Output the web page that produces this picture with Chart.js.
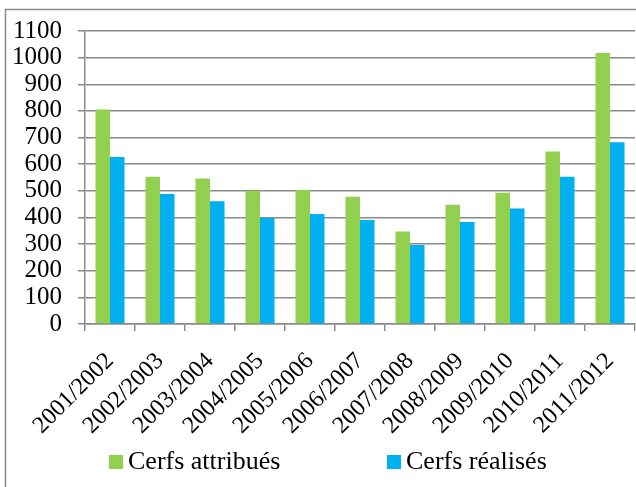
<!DOCTYPE html>
<html>
<head>
<meta charset="utf-8">
<script src="https://cdn.jsdelivr.net/npm/chart.js@4"></script>
<style>
  html, body { margin: 0; padding: 0; background: #fff; }
  #wrap { position: relative; width: 636px; height: 487px; overflow: hidden; }
  #legend { position: absolute; top: 446px; left: 0; width: 636px; font-family: "Liberation Serif", "Times New Roman", serif; font-size: 26px; line-height: 30px; color: #000; }
  .item { position: absolute; top: 0; white-space: nowrap; }
  .box { display: inline-block; width: 14px; height: 14px; margin-right: 5px; vertical-align: 0px; }
</style>
</head>
<body>
<div id="wrap">
  <canvas id="chart" width="636" height="487"></canvas>
  <div id="legend"></div>
</div>
<script>
// categories and values
const seasons = ['2001/2002', '2002/2003', '2003/2004', '2004/2005', '2005/2006', '2006/2007',
                 '2007/2008', '2008/2009', '2009/2010', '2010/2011', '2011/2012'];
const attribues = [805, 553, 546, 500, 503, 478, 347, 448, 493, 648, 1017];
const realises = [627, 488, 461, 398, 413, 391, 297, 383, 434, 553, 682];
const seriesNames = ['Cerfs attribués', 'Cerfs réalisés'];
const colors = ['#92D050', '#00B0F0'];

const gridColor = '#8a8a8a';
const font = '"Liberation Serif", "Times New Roman", serif';

// outer frame of the original figure
const framePlugin = {
  id: 'frame',
  beforeDraw(chart) {
    const c = chart.ctx;
    c.save();
    c.strokeStyle = gridColor;
    c.lineWidth = 1.5;
    c.beginPath();
    c.moveTo(5.5, 487);
    c.lineTo(5.5, 9.5);
    c.lineTo(636, 9.5);
    c.stroke();
    c.restore();
  }
};

const ctx = document.getElementById('chart').getContext('2d');
new Chart(ctx, {
  type: 'bar',
  data: {
    labels: seasons,
    datasets: [
      { label: seriesNames[0], data: attribues, backgroundColor: colors[0] },
      { label: seriesNames[1], data: realises, backgroundColor: colors[1] }
    ]
  },
  options: {
    responsive: false,
    animation: false,
    layout: { padding: { top: 29, left: 11, right: 1, bottom: 31 } },
    datasets: { bar: { categoryPercentage: 0.58, barPercentage: 1 } },
    plugins: {
      legend: { display: false },
      tooltip: { enabled: false }
    },
    scales: {
      x: {
        // rotated first label should not push the plot to the right
        afterFit: (scale) => { scale.paddingLeft = 0; scale.paddingRight = 0; },
        grid: { display: true, drawOnChartArea: false, color: gridColor, lineWidth: 1.5, tickLength: 7 },
        border: { color: gridColor, width: 1.5 },
        ticks: { autoSkip: false, color: '#000', font: { family: font, size: 24 }, minRotation: 45, maxRotation: 45, padding: 16 }
      },
      y: {
        min: 0,
        max: 1100,
        afterFit: (scale) => { scale.width = 74; },
        grid: { color: gridColor, lineWidth: 1.5, tickLength: 7 },
        border: { color: gridColor, width: 1.5 },
        ticks: { autoSkip: false, stepSize: 100, color: '#000', font: { family: font, size: 25 }, padding: 16,
                 callback: v => String(v) }
      }
    }
  },
  plugins: [framePlugin]
});

// legend as html text, placed like the original
const legendPos = [109, 387];
const legend = document.getElementById('legend');
seriesNames.forEach((name, i) => {
  const el = document.createElement('span');
  el.className = 'item';
  el.style.left = legendPos[i] + 'px';
  el.innerHTML = '<span class="box" style="background:' + colors[i] + '"></span>' + name;
  legend.appendChild(el);
});
</script>
</body>
</html>
